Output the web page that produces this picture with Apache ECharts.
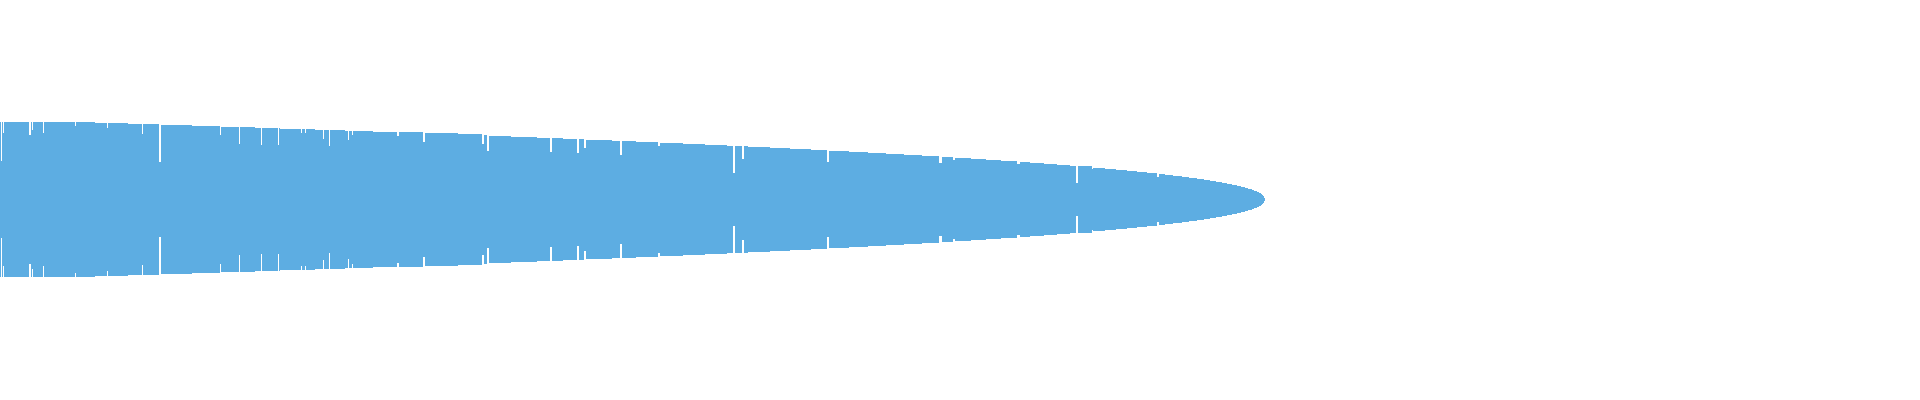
<!DOCTYPE html>
<html>
<head>
<meta charset="utf-8">
<title>chart</title>
<script src="https://cdn.jsdelivr.net/npm/echarts@6/dist/echarts.min.js"></script>
<style>
  html, body { margin: 0; padding: 0; background: #fff; }
  #main { width: 1920px; height: 400px; }
</style>
</head>
<body>
<div id="main"></div>
<script>
// rank where each bar starts (the last entry closes the final bar)
var barEdges = [
  0, 1, 2, 3, 4, 29, 31, 32, 33, 43, 44, 75, 76, 95, 107, 108, 128, 142, 143, 159,
  161, 192, 220, 221, 239, 240, 255, 261, 262, 278, 279, 280, 301, 302, 305, 306, 315, 323, 324, 329,
  330, 345, 348, 349, 352, 353, 373, 397, 399, 423, 425, 458, 482, 484, 487, 489, 511, 537, 550, 552,
  563, 577, 579, 584, 586, 612, 620, 622, 636, 658, 660, 683, 705, 727, 733, 735, 742, 744, 748, 770,
  790, 811, 827, 829, 849, 868, 886, 904, 922, 939, 942, 953, 955, 971, 986, 1001, 1017, 1020, 1030, 1044,
  1057, 1070, 1076, 1078, 1092, 1093, 1105, 1116, 1127, 1137, 1147, 1157, 1159, 1165, 1173, 1182, 1189, 1197, 1204, 1210,
  1216, 1222, 1227, 1232, 1237, 1241, 1245, 1248, 1252, 1254, 1257, 1259, 1261, 1262, 1263, 1264,
  1265
];

// thickness of each bar, drawn symmetric around zero
var barSizes = [
  155, 77, 155, 133, 155, 129, 155, 139, 155, 133, 155, 147, 155, 153, 143, 153, 151, 131, 151, 75,
  149, 147, 129, 145, 111, 145, 143, 109, 143, 109, 143, 141, 133, 141, 133, 141, 139, 121, 139, 107,
  139, 137, 119, 137, 129, 137, 135, 127, 135, 115, 133, 131, 111, 129, 97, 127, 125, 123, 95, 123,
  121, 93, 121, 103, 119, 117, 89, 117, 115, 107, 113, 111, 109, 107, 53, 107, 81, 107, 105, 103,
  101, 99, 75, 97, 95, 93, 91, 89, 87, 73, 85, 79, 83, 81, 79, 77, 71, 75, 73, 71,
  69, 67, 33, 67, 61, 63, 61, 59, 57, 55, 53, 45, 51, 49, 47, 45, 43, 41, 39, 37,
  35, 33, 31, 29, 27, 25, 23, 21, 19, 17, 15, 13, 11, 9, 7, 3
];

var barColor = '#5dade2';

var chart = echarts.init(document.getElementById('main'));

var rows = [];
for (var i = 0; i < barSizes.length; i++) {
  rows.push([barEdges[i], barEdges[i + 1], barSizes[i]]);
}

var option = {
  animation: false,
  grid: { left: 0, right: 0, top: 0, bottom: 1 },
  xAxis: { type: 'value', min: 0, max: 1920, show: false },
  yAxis: { type: 'value', min: -199.5, max: 199.5, show: false },
  series: [
    {
      type: 'custom',
      silent: true,
      data: rows,
      renderItem: function (params, api) {
        var size = api.value(2);
        var p0 = api.coord([api.value(0), size / 2]);
        var p1 = api.coord([api.value(1), -size / 2]);
        return {
          type: 'rect',
          shape: { x: p0[0], y: p0[1], width: p1[0] - p0[0], height: p1[1] - p0[1] },
          style: { fill: barColor }
        };
      }
    }
  ]
};

chart.setOption(option);
</script>
</body>
</html>
